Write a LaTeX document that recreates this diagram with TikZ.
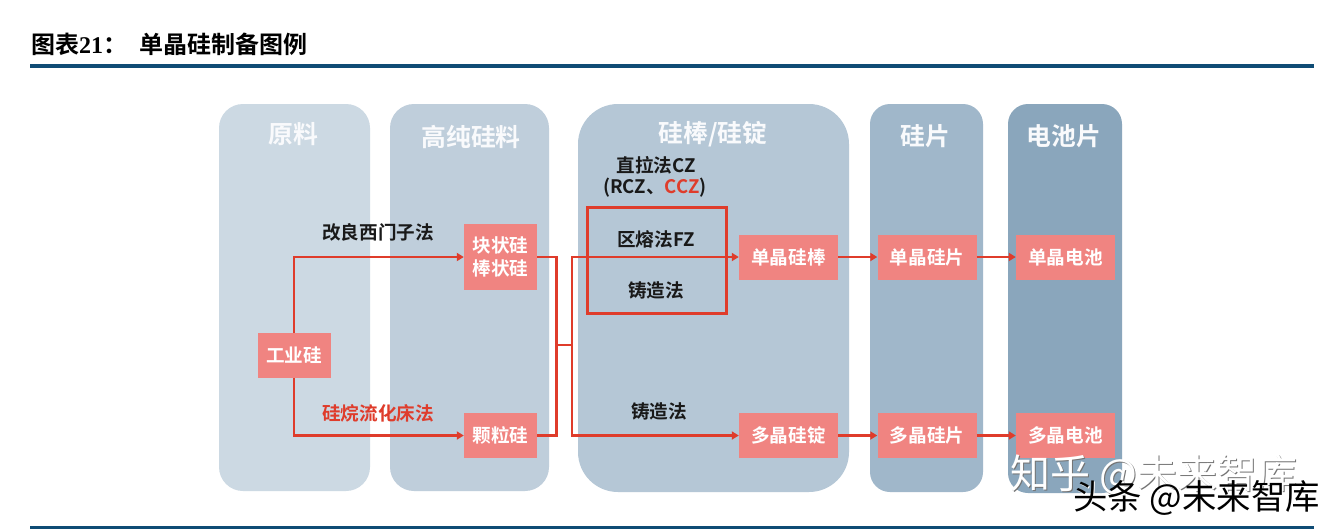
\documentclass[tikz,border=0pt]{standalone}
\usepackage{fontspec}
\setmainfont{Noto Sans CJK SC}[BoldFont={Noto Sans CJK SC Bold}]
\newfontfamily\serifnum{Liberation Serif}[BoldFont={Liberation Serif Bold}]
\usetikzlibrary{arrows.meta}
\definecolor{ruleblue}{HTML}{0F4C75}
\definecolor{flowred}{HTML}{DF3C2B}
\definecolor{boxred}{HTML}{F08481}
\definecolor{panA}{HTML}{CCD9E3}
\definecolor{panB}{HTML}{BFCEDB}
\definecolor{panC}{HTML}{B5C7D6}
\definecolor{panD}{HTML}{A0B7CA}
\definecolor{panE}{HTML}{8AA6BC}
\tikzset{
  x=1pt,y=-1pt,
  fs/.style={font=\fontsize{#1}{#1}\selectfont\bfseries},
  stagebox/.style={fill=boxred,text=white,inner sep=0pt,fs=18.6,align=center,
     minimum width=99pt,minimum height=45pt},
  smallbox/.style={stagebox,minimum width=73pt},
  paneltitle/.style={text=white!92!panC,inner sep=0pt,fs=24.8},
  method/.style={text=black!90,inner sep=0pt,fs=18.6,align=center},
  flow/.style={draw=flowred,line width=2.8pt},
  flowarrow/.style={flow,-{Triangle[length=7pt,width=8pt]}},
}
\begin{document}
\begin{tikzpicture}
\useasboundingbox (0,0) rectangle (1335,531);
\fill[white] (0,0) rectangle (1335,531);
% rules
\fill[ruleblue] (30,64) rectangle (1314,68);
\fill[ruleblue] (30,525.5) rectangle (1314,528.5);
\node[inner sep=0pt,anchor=west,fs=24] (heading) at (31,44) {图表{\serifnum 21}：};
\node[inner sep=0pt,anchor=west,fs=24] (headingb) at (139.5,44) {单晶硅制备图例};
% panels
\fill[panA,rounded corners=24pt] (219,104) rectangle (370,491);
\fill[panB,rounded corners=24pt] (390,104) rectangle (549,491);
\fill[panC,rounded corners=40pt] (578,104) rectangle (849,492);
\fill[panD,rounded corners=20pt] (870,104) rectangle (983,492);
\fill[panE,rounded corners=20pt] (1008,104) rectangle (1122,493);
\node[paneltitle] (t1) at (293,134) {原料};
\node[paneltitle] (t2) at (471,137) {高纯硅料};
\node[paneltitle] (t3) at (713,134) {硅棒/硅锭};
\node[paneltitle] (t4) at (925,136) {硅片};
\node[paneltitle] (t5) at (1064,136) {电池片};
% boxes
\node[smallbox] (gy) at (294,355.5) {工业硅};
\node[smallbox,minimum height=66pt] (kz) at (500.5,257) {块状硅\\[4.5pt]棒状硅};
\node[smallbox] (kl) at (500.5,435.5) {颗粒硅};
\node[stagebox] (dj) at (788.5,257) {单晶硅棒};
\node[stagebox] (dz) at (788.5,435.5) {多晶硅锭};
\node[stagebox] (pa) at (927,257) {单晶硅片};
\node[stagebox] (pb) at (927,435.5) {多晶硅片};
\node[stagebox] (ca) at (1065.5,257) {单晶电池};
\node[stagebox] (cb) at (1065.5,435.5) {多晶电池};
% labels
\node[method] (m1) at (378,232.5) {改良西门子法};
\node[method,text=flowred] (m2) at (378,413.5) {硅烷流化床法};
\node[method] (m3) at (656,165.5) {直拉法CZ};
\node[method] (m4) at (655,187.5) {(RCZ、\textcolor{flowred}{CCZ})};
\node[method] (m5) at (656,239.5) {区熔法FZ};
\node[method] (m6) at (656,290.5) {铸造法};
\node[method] (m7) at (659,411.5) {铸造法};
% connectors
\coordinate (jl) at (556.5,345);
\coordinate (jr) at (572,345);
\draw[flowarrow] (gy.north) |- (kz.west);
\draw[flowarrow] (gy.south) |- (kl.west);
\draw[flow] (kz.east) -| (jl) |- (kl.east);
\draw[flow] (jl) -- (jr);
\draw[flowarrow] (jr) |- (dj.west);
\draw[flowarrow] (jr) |- (dz.west);
\draw[flowarrow] (dj) -- (pa);
\draw[flowarrow] (dz) -- (pb);
\draw[flowarrow] (pa) -- (ca);
\draw[flowarrow] (pb) -- (cb);
\draw[flow,line width=3pt] (587.5,207.5) rectangle (726,313);
% watermarks
\node[inner sep=0pt,anchor=west,text=black!55,font=\fontsize{40}{40}\selectfont] (w1s) at (1011.5,476) {知乎 @未来智库};
\node[inner sep=0pt,anchor=west,text=white,font=\fontsize{40}{40}\selectfont] (w1) at (1010,475) {知乎 @未来智库};
\node[inner sep=0pt,anchor=west,text=white,font=\fontsize{34.4}{34.4}\selectfont] (w2s) at (1074.5,499) {头条 @未来智库};
\node[inner sep=0pt,anchor=west,text=black,font=\fontsize{34.4}{34.4}\selectfont] (w2) at (1073,498) {头条 @未来智库};
\end{tikzpicture}
\end{document}
